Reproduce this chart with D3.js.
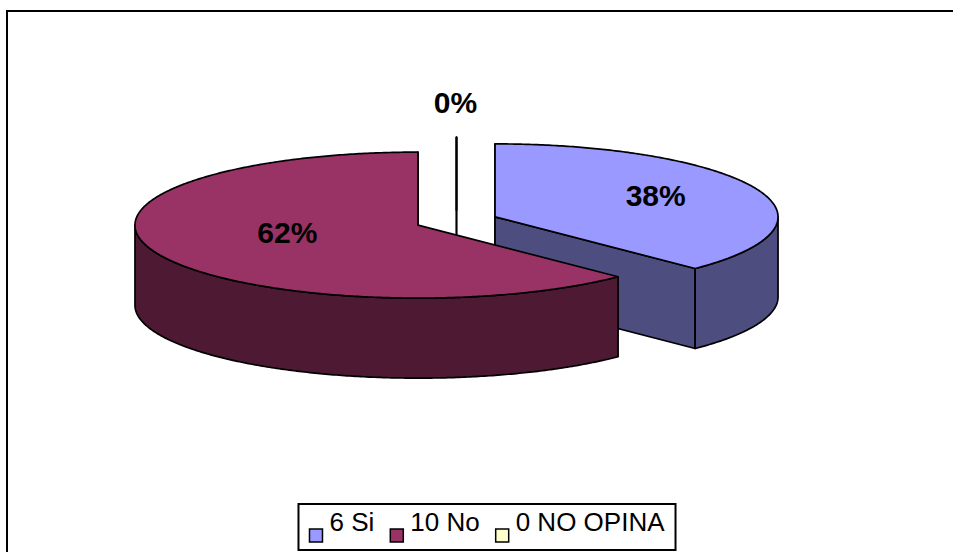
<!DOCTYPE html>
<html>
<head>
<meta charset="utf-8">
<script src="https://cdn.jsdelivr.net/npm/d3@7"></script>
<style>
  html, body { margin: 0; padding: 0; background: #fff; overflow: hidden; }
</style>
</head>
<body>
<svg id="chart" width="953" height="552"></svg>
<script>
// Survey answers
const categories = ["Si", "No", "NO OPINA"];
const values = [6, 10, 0];
const topColors = ["#9999FF", "#993366", "#FFFFCC"];
const sideColors = ["#4D4D80", "#4D1933", "#80806A"];

const W = 953, H = 552;
const font = 'Arial, "Liberation Sans", sans-serif';
const svg = d3.select("#chart");

// outer chart frame (right and bottom edges run off the canvas)
svg.append("rect")
  .attr("x", 7).attr("y", 11)
  .attr("width", W).attr("height", H)
  .attr("fill", "#fff").attr("stroke", "#000").attr("stroke-width", 2);

// 3D pie geometry: elliptical top face, extruded downward
const cx = 456.5, cy = 221, rx = 283, ry = 73, depth = 80, explode = 41.7;
const total = d3.sum(values);

const arcs = d3.pie().sort(null).value(d => d)(values)
  .map((a, i) => {
    const m = (a.startAngle + a.endAngle) / 2;
    return {
      i, value: a.data, s: a.startAngle, e: a.endAngle, m,
      c: { x: cx + explode * Math.sin(m), y: cy - explode * (ry / rx) * Math.cos(m) }
    };
  });

const pt = (c, a, dz = 0) => [c.x + rx * Math.sin(a), c.y - ry * Math.cos(a) + dz];
const sample = (a0, a1) => {
  const n = Math.max(2, Math.ceil(Math.abs(a1 - a0) / 0.01));
  return d3.range(n + 1).map(k => a0 + (a1 - a0) * k / n);
};
const line = d3.line().curve(d3.curveLinear);
const poly = pts => line(pts) + "Z";

const pieG = svg.append("g")
  .attr("stroke", "#000").attr("stroke-width", 1.7).attr("stroke-linejoin", "round");

// paint slices from back to front
arcs.slice().sort((a, b) => a.c.y - b.c.y).forEach(d => {
  const g = pieG.append("g");
  const c = d.c;

  // radial faces that turn toward the viewer (edge-on faces show as a line)
  [[d.s, d.s - Math.PI / 2], [d.e, d.e + Math.PI / 2]].forEach(([a, nrm]) => {
    if (Math.cos(nrm) < 1e-6) {
      g.append("path")
        .attr("d", poly([[c.x, c.y], pt(c, a), pt(c, a, depth), [c.x, c.y + depth]]))
        .attr("fill", sideColors[d.i]);
    }
  });

  // curved outer wall, front half only
  const a0 = Math.max(d.s, Math.PI / 2), a1 = Math.min(d.e, 3 * Math.PI / 2);
  if (a1 > a0) {
    const as = sample(a0, a1);
    const pts = as.map(a => pt(c, a)).concat(as.slice().reverse().map(a => pt(c, a, depth)));
    g.append("path").attr("d", poly(pts)).attr("fill", sideColors[d.i]);
  }

  // top face
  const topPts = [[c.x, c.y]].concat(sample(d.s, d.e).map(a => pt(c, a)));
  g.append("path").attr("d", poly(topPts)).attr("fill", topColors[d.i])
    .attr("stroke-width", d.value === 0 ? 2 : 1.7);
});

// percentage labels (round half to even)
function pctText(v) {
  const p = v / total * 100;
  const f = Math.floor(p);
  let r = Math.round(p);
  if (Math.abs(p - f - 0.5) < 1e-9) r = (f % 2 === 0) ? f : f + 1;
  return r + "%";
}

const labelSize = 30;
const capHalf = labelSize * 0.716 / 2;
svg.append("g").selectAll("text")
  .data(arcs)
  .join("text")
  .attr("text-anchor", "middle")
  .attr("font-family", font)
  .attr("font-weight", "bold")
  .attr("font-size", labelSize)
  .attr("fill", "#000")
  .attr("x", d => d.value === 0 ? d.c.x - 1 : d.c.x + 0.557 * rx * Math.sin(d.m) + 15)
  .attr("y", d => (d.value === 0
      ? d.c.y - ry * Math.cos(d.m) - 34.7
      : d.c.y - 0.518 * ry * Math.cos(d.m) - 7) + capHalf)
  .text(d => pctText(d.value));

// legend
const legendSize = 26, sq = 13, gap = 7, itemGap = 16, pad = 11;
const legTop = 504, legH = 46, legCenter = 487;
const leg = svg.append("g");
const legBox = leg.append("rect")
  .attr("fill", "#fff").attr("stroke", "#000").attr("stroke-width", 2);
const items = leg.selectAll("g.item").data(categories).join("g").attr("class", "item");
items.append("rect")
  .attr("width", sq).attr("height", sq)
  .attr("y", 529)
  .attr("fill", (d, i) => topColors[i])
  .attr("stroke", "#000").attr("stroke-width", 1.5);
items.append("text")
  .attr("font-family", font).attr("font-size", legendSize)
  .attr("y", 531).attr("fill", "#000")
  .text((d, i) => values[i] + " " + d);

let x = 0;
const pos = [];
items.each(function () {
  const tw = d3.select(this).select("text").node().getComputedTextLength();
  pos.push(x);
  x += sq + gap + tw + itemGap;
});
const innerW = x - itemGap;
const boxW = innerW + 2 * pad;
const boxX = legCenter - boxW / 2;
legBox.attr("x", boxX).attr("y", legTop).attr("width", boxW).attr("height", legH);
items.each(function (d, i) {
  const g = d3.select(this);
  const x0 = boxX + pad + pos[i];
  g.select("rect").attr("x", x0);
  g.select("text").attr("x", x0 + sq + gap);
});
</script>
</body>
</html>
